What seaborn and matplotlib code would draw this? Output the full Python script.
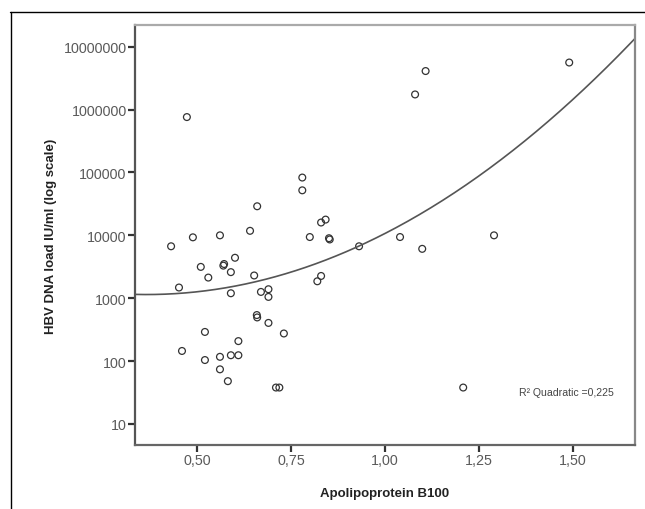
import numpy as np
import pandas as pd
import matplotlib
matplotlib.use("Agg")
import matplotlib.pyplot as plt
from matplotlib.lines import Line2D
from matplotlib.ticker import FixedLocator, NullLocator
import seaborn as sns

# ---- data ----
apob = [0.473, 0.431, 0.489, 1.108, 1.080, 0.780, 0.780, 0.660, 0.561, 0.641,
        0.830, 0.842, 0.800, 0.851, 0.853, 0.931, 1.040, 1.099, 1.490, 1.290,
        0.452, 0.510, 0.530, 0.521, 0.460, 0.521, 0.601, 0.570, 0.572, 0.590,
        0.652, 0.590, 0.670, 0.690, 0.690, 0.820, 0.830, 0.659, 0.660, 0.690,
        0.731, 0.610, 0.561, 0.590, 0.610, 0.561, 0.582, 0.710, 0.719, 1.208]
hbv_dna = [760000, 6700, 9300, 4100000, 1740000, 83000, 52000, 29000, 10000, 11800,
           16000, 17800, 9400, 9000, 8600, 6700, 9400, 6100, 5600000, 10000,
           1480, 3150, 2130, 291, 145, 104, 4400, 3300, 3500, 2600,
           2300, 1200, 1260, 1390, 1050, 1860, 2260, 540, 495, 405,
           275, 208, 117, 124, 124, 74, 48, 38, 38, 38]
# quadratic fit (log10 scale): c2*x^2 + c1*x + c0
fit_coef = [2.41, -1.76, 3.38]
r2_label = "R\u00b2 Quadratic =0,225"

x_ticks = [0.50, 0.75, 1.00, 1.25, 1.50]
x_ticklabels = ["0,50", "0,75", "1,00", "1,25", "1,50"]
y_ticks = [10, 100, 1000, 10000, 100000, 1000000, 10000000]
y_ticklabels = ["10", "100", "1000", "10000", "100000", "1000000", "10000000"]
x_label = "Apolipoprotein B100"
y_label = "HBV DNA load IU/ml (log scale)"

df = pd.DataFrame({"apob": apob, "hbv": hbv_dna})

sns.set_theme(style="white")
plt.rcParams["font.family"] = ["Liberation Sans", "DejaVu Sans"]

fig = plt.figure(figsize=(6.45, 5.10), dpi=100)
ax = fig.add_axes([135/645, 1-446/510, 500/645, 420/510])

xmin, xmax = 0.335, 1.665
xs = np.linspace(xmin, xmax, 300)
curve = pd.DataFrame({"x": xs, "y": 10 ** np.polyval(fit_coef, xs)})
sns.lineplot(data=curve, x="x", y="y", ax=ax, color="#555555", linewidth=1.2)

sns.scatterplot(data=df, x="apob", y="hbv", ax=ax, marker="o", s=24,
                facecolor="none", edgecolor="#333333", linewidth=0.9)

ax.set_yscale("log")
ax.set_xlim(xmin, xmax)
ax.set_ylim(10 ** 0.666, 10 ** 7.345)

ax.xaxis.set_major_locator(FixedLocator(x_ticks))
ax.set_xticklabels(x_ticklabels)
ax.yaxis.set_major_locator(FixedLocator(y_ticks))
ax.yaxis.set_minor_locator(NullLocator())
ax.set_yticklabels(y_ticklabels)

ax.tick_params(axis="both", which="major", direction="out", length=5, width=1.6,
               color="#333333", labelsize=10.3, labelcolor="#5a5a5a", pad=1,
               bottom=True, left=True)

ax.set_xlabel(x_label, fontsize=9.5, fontweight="bold", color="#222222", labelpad=14)
ax.set_ylabel(y_label, fontsize=9.5, fontweight="bold", color="#222222", labelpad=5)

for side, col in [("left", "#555555"), ("bottom", "#666666"), ("right", "#888888"), ("top", "#aaaaaa")]:
    ax.spines[side].set_visible(True)
    ax.spines[side].set_color(col)
    ax.spines[side].set_linewidth(1.6)

ax.text((614-135)/500, (446-393)/420, r2_label, transform=ax.transAxes, fontsize=7.6,
        color="#444444", ha="right", va="center")

# outer frame lines
fig.add_artist(Line2D([10/645, 1.0], [1-13/510, 1-13/510], transform=fig.transFigure,
                      color="black", linewidth=1.0))
fig.add_artist(Line2D([11/645, 11/645], [0.0, 1-13/510], transform=fig.transFigure,
                      color="black", linewidth=1.0))

fig.savefig("out.png", dpi=100)
